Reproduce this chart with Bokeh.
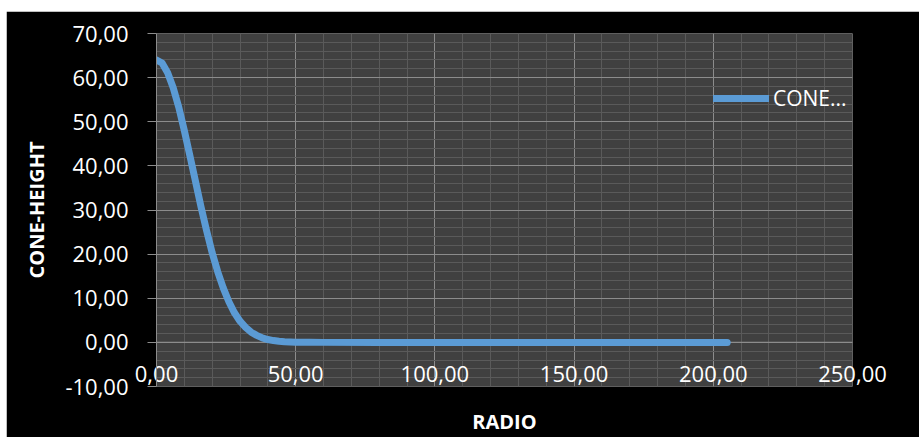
from bokeh.plotting import figure
from bokeh.models import Range1d, FixedTicker, Spacer
from bokeh.layouts import column, row
from bokeh.embed import file_html
from bokeh.resources import INLINE

# ---- data ----
radio = [0, 2, 4, 6, 8, 10, 12, 14, 16, 18, 20, 22, 24, 26, 28, 30, 32, 34, 36, 38,
         40, 42, 44, 46, 48, 50, 55, 60, 80, 100, 120, 140, 160, 180, 205]
cone_height = [64.0, 63.3, 61.1, 57.7, 53.3, 48.0, 42.3, 36.5, 30.7, 25.3, 20.3, 16.0,
               12.3, 9.2, 6.7, 4.8, 3.4, 2.3, 1.6, 1.0, 0.65, 0.41, 0.25, 0.15, 0.09,
               0.05, 0.02, 0.0, 0.0, 0.0, 0.0, 0.0, 0.0, 0.0, 0.0]

series_name = "CONE..."
x_title = "RADIO"
y_title = "CONE-HEIGHT"

x_ticks = [0, 50, 100, 150, 200, 250]
x_tick_labels = ["0,00", "50,00", "100,00", "150,00", "200,00", "250,00"]
x_minor = [10, 20, 30, 40, 60, 70, 80, 90, 110, 120, 130, 140, 160, 170, 180, 190,
           210, 220, 230, 240]
y_ticks = [-10, 0, 10, 20, 30, 40, 50, 60, 70]
y_tick_labels = ["-10,00", "0,00", "10,00", "20,00", "30,00", "40,00", "50,00",
                 "60,00", "70,00"]
y_minor = [-8, -6, -4, -2, 2, 4, 6, 8, 12, 14, 16, 18, 22, 24, 26, 28, 32, 34, 36, 38,
           42, 44, 46, 48, 52, 54, 56, 58, 62, 64, 66, 68]

FONT = "Open Sans"
LINE_COLOR = "#5B9BD5"
MAJOR_GRID = "#8C8C8C"
MINOR_GRID = "#5A5A5A"

p = figure(width=913, height=426, output_backend="svg", toolbar_location=None,
           x_range=Range1d(x_ticks[0], x_ticks[-1]),
           y_range=Range1d(y_ticks[0], y_ticks[-1]),
           min_border_left=150, min_border_right=67,
           min_border_top=22, min_border_bottom=49,
           background_fill_color="#404040", border_fill_color="#000000",
           outline_line_color=None)

p.xaxis.ticker = FixedTicker(ticks=x_ticks, minor_ticks=x_minor)
p.yaxis.ticker = FixedTicker(ticks=y_ticks, minor_ticks=y_minor)
p.xaxis.major_label_overrides = {t: l for t, l in zip(x_ticks, x_tick_labels)}
p.yaxis.major_label_overrides = {t: l for t, l in zip(y_ticks, y_tick_labels)}

# grids
for g in (p.xgrid, p.ygrid):
    g.grid_line_color = MAJOR_GRID
    g.grid_line_width = 1
    g.minor_grid_line_color = MINOR_GRID
    g.minor_grid_line_width = 1

# y axis
p.yaxis.axis_line_color = MAJOR_GRID
p.yaxis.major_tick_line_color = MAJOR_GRID
p.yaxis.major_tick_out = 9
p.yaxis.major_tick_in = 0
p.yaxis.minor_tick_line_color = None
p.yaxis.major_label_text_color = "white"
p.yaxis.major_label_text_font = FONT
p.yaxis.major_label_text_font_size = "22px"
p.yaxis.major_label_standoff = 19
p.yaxis.axis_label = y_title
p.yaxis.axis_label_text_color = "white"
p.yaxis.axis_label_text_font = FONT
p.yaxis.axis_label_text_font_style = "bold"
p.yaxis.axis_label_text_font_size = "20px"
p.yaxis.axis_label_standoff = 12

# x axis: labels pulled up inside the plot area like the Excel original
p.xaxis.axis_line_color = None
p.xaxis.major_tick_line_color = None
p.xaxis.minor_tick_line_color = None
p.xaxis.major_tick_out = 0
p.xaxis.major_tick_in = 0
p.xaxis.major_label_text_color = "white"
p.xaxis.major_label_text_font = FONT
p.xaxis.major_label_text_font_size = "22px"
p.xaxis.major_label_standoff = -25
p.xaxis.axis_label = x_title
p.xaxis.axis_label_text_color = "white"
p.xaxis.axis_label_text_font = FONT
p.xaxis.axis_label_text_font_style = "bold"
p.xaxis.axis_label_text_font_size = "20px"
p.xaxis.axis_label_standoff = 23

# the horizontal axis line at y = 0
p.line(x=[x_ticks[0], x_ticks[-1]], y=[0, 0], line_color=MAJOR_GRID, line_width=1.2)

p.line(radio, cone_height, line_color=LINE_COLOR, line_width=7, line_cap="round",
       line_join="round", legend_label=series_name)

leg = p.legend[0]
leg.location = (557, 274)
leg.padding = 0
leg.margin = 0
leg.spacing = 0
leg.glyph_width = 56
leg.glyph_height = 20
leg.label_height = 20
leg.label_standoff = 4
leg.background_fill_alpha = 0
leg.border_line_color = None
leg.label_text_color = "white"
leg.label_text_font = FONT
leg.label_text_font_size = "21px"

layout = column(Spacer(height=11), row(Spacer(width=6), p))
open("out.html", "w").write(file_html(layout, INLINE))
